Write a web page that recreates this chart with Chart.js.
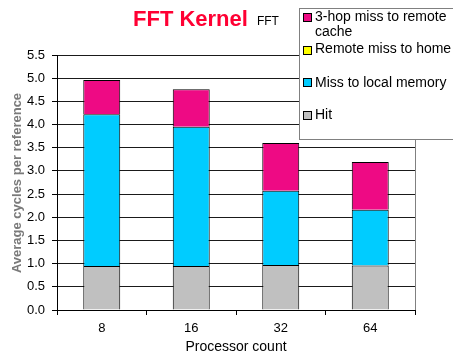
<!DOCTYPE html>
<html><head><meta charset="utf-8">
<script src="https://cdn.jsdelivr.net/npm/chart.js@4/dist/chart.umd.min.js"></script>
<style>html,body{margin:0;padding:0;background:#fff;overflow:hidden}</style>
</head><body>
<canvas id="c" width="453" height="358" style="display:block;width:453px;height:358px"></canvas>
<script>
// Processor counts along the x axis
const categories = ['8', '16', '32', '64'];
// Average cycles per reference, one array per component (stacked bottom to top)
const hit        = [0.95, 0.95, 0.97, 0.96];
const localMiss  = [3.27, 3.00, 1.60, 1.20];
const remoteHome = [0.00, 0.00, 0.00, 0.00];
const threeHop   = [0.74, 0.81, 1.03, 1.03];
const seriesNames  = ['Hit', 'Miss to local memory', 'Remote miss to home', '3-hop miss to remote cache'];
const seriesColors = ['#c0c0c0', '#00ccff', '#ffff00', '#ee0a84'];
const yMin = 0, yMax = 5.5, yStep = 0.5;
const titleMain = 'FFT Kernel';
const titleSub = 'FFT';
const yTitle = 'Average cycles per reference';
const xTitle = 'Processor count';

const FONT = '"Liberation Sans", Arial, sans-serif';
const seriesData = [hit, localMiss, remoteHome, threeHop];

const decor = {
  id: 'decor',
  beforeDraw(chart) {
    const ctx = chart.ctx;
    ctx.save();
    ctx.fillStyle = '#ffffff';
    ctx.fillRect(0, 0, chart.width, chart.height);
    ctx.restore();
  },
  afterDraw(chart) {
    const ctx = chart.ctx, a = chart.chartArea;
    ctx.save();
    // plot area right edge
    ctx.strokeStyle = '#808080';
    ctx.lineWidth = 1;
    ctx.beginPath();
    ctx.moveTo(Math.round(a.right) + 0.5, a.top);
    ctx.lineTo(Math.round(a.right) + 0.5, a.bottom);
    ctx.stroke();

    // title
    ctx.textBaseline = 'alphabetic';
    ctx.textAlign = 'left';
    ctx.fillStyle = '#ff0033';
    ctx.font = 'bold 22px ' + FONT;
    ctx.fillText(titleMain, 133, 26);
    const w = ctx.measureText(titleMain).width;
    ctx.fillStyle = '#000';
    ctx.font = '12px ' + FONT;
    ctx.fillText(titleSub, 133 + w + 9, 25);

    // y axis title (soft grey)
    ctx.save();
    ctx.filter = 'blur(0.6px)';
    ctx.translate(17, 183);
    ctx.rotate(-Math.PI / 2);
    ctx.textAlign = 'center';
    ctx.textBaseline = 'middle';
    ctx.fillStyle = '#7a7a7a';
    ctx.font = 'bold 13px ' + FONT;
    ctx.fillText(yTitle, 0, 0);
    ctx.restore();

    // legend box
    ctx.fillStyle = '#fff';
    ctx.fillRect(299.5, 8.5, 200, 131);
    ctx.strokeStyle = '#808080';
    ctx.strokeRect(299.5, 8.5, 200, 131);
    const rows = [
      {i: 3, y: 17, my: 18},
      {i: 2, y: 49, my: 51},
      {i: 1, y: 83, my: 83},
      {i: 0, y: 115, my: 116}
    ];
    ctx.font = '14px ' + FONT;
    ctx.textBaseline = 'middle';
    ctx.textAlign = 'left';
    rows.forEach(r => {
      ctx.fillStyle = seriesColors[r.i];
      ctx.fillRect(303.5, r.my - 4.5, 8, 8);
      ctx.strokeStyle = '#000';
      ctx.strokeRect(303.5, r.my - 4.5, 8, 8);
      // wrap the label to the legend width
      const words = seriesNames[r.i].split(' ');
      const lines = [];
      let cur = '';
      words.forEach(wd => {
        const t = cur ? cur + ' ' + wd : wd;
        if (ctx.measureText(t).width > 137 && cur) { lines.push(cur); cur = wd; } else cur = t;
      });
      lines.push(cur);
      ctx.fillStyle = '#000';
      lines.forEach((ln, k) => ctx.fillText(ln, 315, r.y + k * 15));
    });
    ctx.restore();
  }
};

new Chart(document.getElementById('c'), {
  type: 'bar',
  data: {
    labels: categories,
    datasets: seriesData.map((d, i) => ({
      label: seriesNames[i],
      data: d,
      backgroundColor: seriesColors[i],
      borderColor: '#000',
      borderWidth: 1,
      borderSkipped: 'start',
      categoryPercentage: 1,
      barPercentage: 0.413
    }))
  },
  options: {
    responsive: false,
    devicePixelRatio: 1,
    animation: false,
    layout: {padding: {left: 0, top: 55, right: 38, bottom: 0}},
    plugins: {legend: {display: false}, title: {display: false}, tooltip: {enabled: false}},
    scales: {
      x: {
        stacked: true,
        offset: true,
        grid: {display: true, offset: true, drawOnChartArea: false, drawTicks: true, tickLength: 5, color: '#000'},
        border: {display: true, color: '#000', width: 1},
        ticks: {color: '#000', font: {family: FONT, size: 13}, padding: 6, maxRotation: 0},
        title: {display: true, text: xTitle, color: '#000', font: {family: FONT, size: 14}, padding: {top: 0, bottom: 2}},
        afterFit(s) { s.height = 48; }
      },
      y: {
        stacked: true,
        min: yMin, max: yMax,
        ticks: {stepSize: yStep, color: '#000', font: {family: FONT, size: 13}, padding: 7,
                callback: v => Number(v).toFixed(1)},
        grid: {color: '#1a1a1a', tickColor: '#000', tickLength: 5, drawTicks: true},
        border: {display: true, color: '#000', width: 1},
        afterFit(s) { s.width = 57; }
      }
    }
  },
  plugins: [decor]
});
</script>
</body></html>
